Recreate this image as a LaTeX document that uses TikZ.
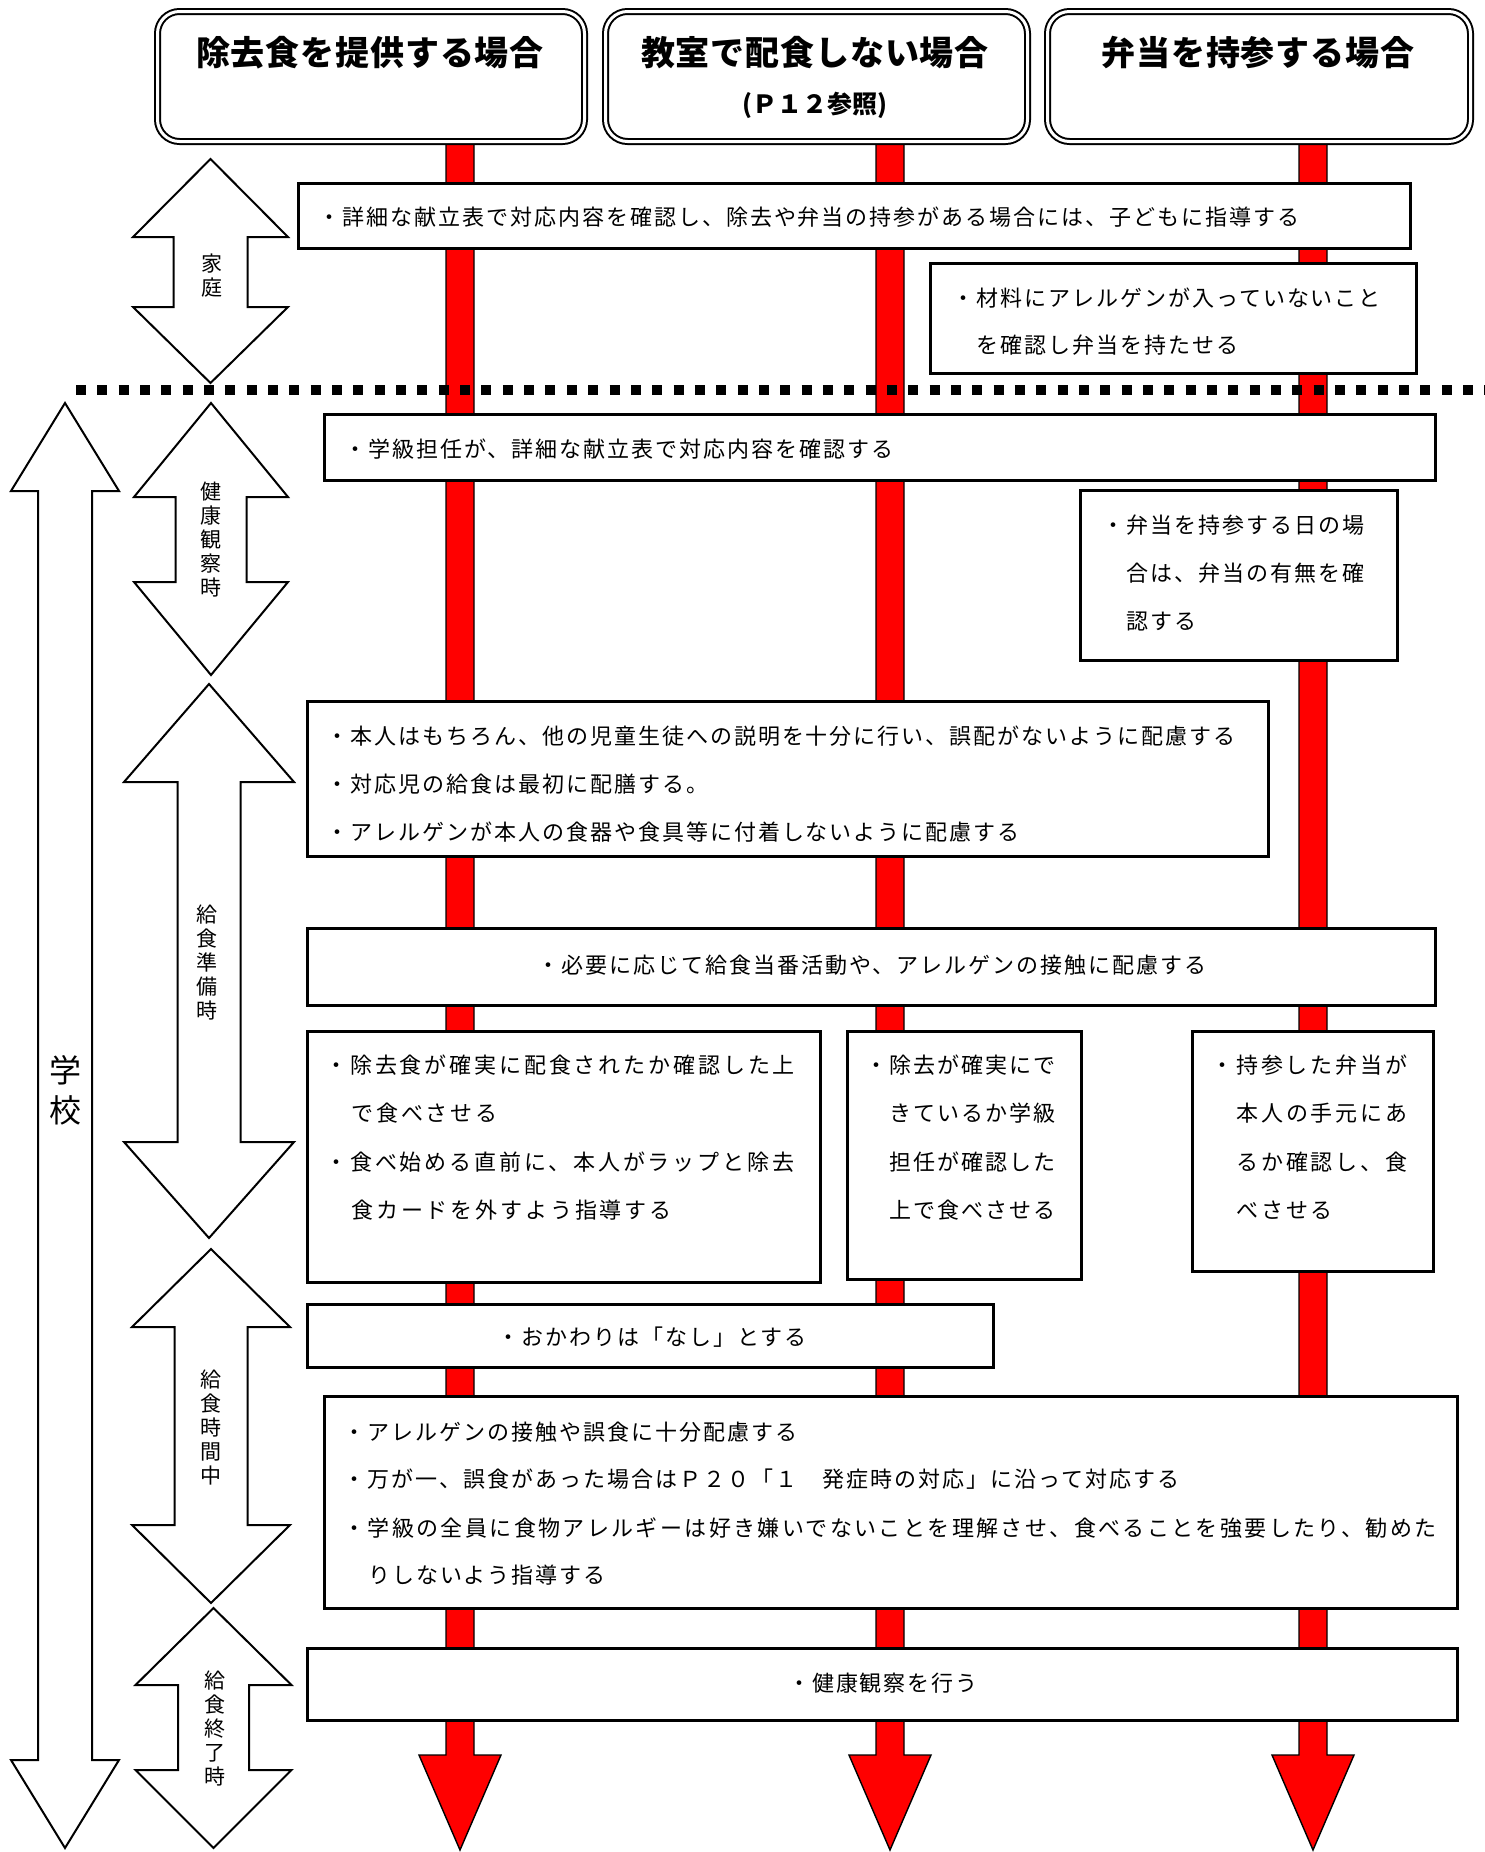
\documentclass[tikz,border=0pt]{standalone}
\usepackage{fontspec}
\newfontfamily\jpbody{Noto Sans CJK JP}[LetterSpace=9]
\newfontfamily\jpbodyk{Noto Sans CJK JP}[LetterSpace=10.8]
\newfontfamily\jpwide{Noto Sans CJK JP}[LetterSpace=13]
\newfontfamily\jphead{Noto Sans CJK JP}[LetterSpace=2.5]
\newfontfamily\jpplain{Noto Sans CJK JP}
\newcommand\mydblarrow[8]{% name, cx, tipTop, baseTop, baseBot, tipBot, headHW, shaftHW
  \draw[blockarrow] (#2,#3) coordinate (#1) -- ({#2+#7},#4) -- ({#2+#8},#4) -- ({#2+#8},#5) -- ({#2+#7},#5) -- (#2,#6) -- ({#2-#7},#5) -- ({#2-#8},#5) -- ({#2-#8},#4) -- ({#2-#7},#4) -- cycle;}
\newcommand\myredbar[2]{% name, cx
  \draw[redbar] ({#2-14},141) coordinate (#1) -- ({#2+14},141) -- ({#2+14},1755) -- ({#2+41},1755) -- (#2,1850) -- ({#2-41},1755) -- ({#2-14},1755) -- cycle;}
\newcommand\myboxat[5]{% name, x1, y1, x2, y2
  \node[box, anchor=north west, minimum width={(#4-#2)*0.5pt}, minimum height={(#5-#3)*0.5pt}] (#1) at (#2,#3) {};}
\newcommand\myhead[3]{% name, x1, x2
  \node[hdr, anchor=north west, minimum width={(#3-#2-7)*0.5pt}, minimum height={(144-7-7)*0.5pt}] (#1) at ({#2+3.5},10.5) {};}
\begin{document}
\begin{tikzpicture}[x=0.5pt,y=-0.5pt,
  box/.style={draw=black,line width=1.3pt,fill=white,inner sep=0pt},
  hdr/.style={draw=black,line width=1pt,double=white,double distance=1.5pt,rounded corners=11pt,fill=white,inner sep=0pt},
  blockarrow/.style={draw=black,line width=1pt,fill=white,line join=miter},
  redbar/.style={draw=black,line width=0.7pt,fill=red,line join=miter},
  txt/.style={inner sep=0pt,anchor=west,font=\jpbody\fontsize{11pt}{12pt}\selectfont},
  ktxt/.style={inner sep=0pt,anchor=west,font=\jpbodyk\fontsize{11pt}{12pt}\selectfont},
  wtxt/.style={inner sep=0pt,anchor=west,font=\jpwide\fontsize{11pt}{12pt}\selectfont},
  ctxt/.style={inner sep=0pt,anchor=center,font=\jpbody\fontsize{11pt}{12pt}\selectfont},
  htxt/.style={inner sep=0pt,anchor=center,font=\jphead\fontsize{17pt}{18pt}\selectfont\bfseries},
  vlab/.style={inner sep=0pt,align=center,font=\jpplain\fontsize{10.5pt}{12pt}\selectfont},
]
\useasboundingbox (0,0) rectangle (1484,1852);
\fill[white] (0,0) rectangle (1484,1852);

% red bars
\myredbar{rb1}{460}
\myredbar{rb2}{890}
\myredbar{rb3}{1313}

% headers
\myhead{h1}{153}{587}
\myhead{h2}{601}{1030}
\myhead{h3}{1043}{1473}
\node[htxt] (h1t) at (370,53) {除去食を提供する場合};
\node[htxt] (h2t) at (815,53) {教室で配食しない場合};
\node[inner sep=0pt,font=\jpplain\fontsize{12.5pt}{14pt}\selectfont\bfseries] (h2s) at (815,105) {(Ｐ１２参照)};
\node[htxt] (h3t) at (1258,53) {弁当を持参する場合};

% boxes
\myboxat{bA}{297}{182}{1409}{247}
\myboxat{bB}{929}{262}{1415}{372}
\myboxat{bC}{323}{413}{1434}{479}
\myboxat{bD}{1079}{489}{1396}{659}
\myboxat{bE}{306}{700}{1267}{855}
\myboxat{bF}{306}{927}{1434}{1004}
\myboxat{bG}{306}{1030}{819}{1281}
\myboxat{bH}{846}{1030}{1080}{1278}
\myboxat{bI}{1191}{1030}{1432}{1270}
\myboxat{bJ}{306}{1303}{992}{1366}
\myboxat{bK}{323}{1395}{1456}{1607}
\myboxat{bL}{306}{1647}{1456}{1719}

% texts
\node[txt] (tA) at (318,217) {・詳細な献立表で対応内容を確認し、除去や弁当の持参がある場合には、子どもに指導する};
\node[txt] (tB1) at (952,298) {・材料にアレルゲンが入っていないこと};
\node[txt] (tB2) at (976,345) {を確認し弁当を持たせる};
\node[txt] (tC) at (344,449) {・学級担任が、詳細な献立表で対応内容を確認する};
\node[txt] (tD1) at (1102,525) {・弁当を持参する日の場};
\node[txt] (tD2) at (1126,573) {合は、弁当の有無を確};
\node[txt] (tD3) at (1126,621) {認する};
\node[txt] (tE1) at (326,736) {・本人はもちろん、他の児童生徒への説明を十分に行い、誤配がないように配慮する};
\node[txt] (tE2) at (326,784) {・対応児の給食は最初に配膳する。};
\node[txt] (tE3) at (326,832) {・アレルゲンが本人の食器や食具等に付着しないように配慮する};
\node[ctxt] (tF) at (872,965) {・必要に応じて給食当番活動や、アレルゲンの接触に配慮する};
\node[wtxt] (tG1) at (325,1065) {・除去食が確実に配食されたか確認した上};
\node[wtxt] (tG2) at (351,1113) {で食べさせる};
\node[wtxt] (tG3) at (325,1162) {・食べ始める直前に、本人がラップと除去};
\node[wtxt] (tG4) at (351,1210) {食カードを外すよう指導する};
\node[txt] (tH1) at (865,1065) {・除去が確実にで};
\node[txt] (tH2) at (889,1113) {きているか学級};
\node[txt] (tH3) at (889,1162) {担任が確認した};
\node[txt] (tH4) at (889,1210) {上で食べさせる};
\node[wtxt] (tI1) at (1211,1065) {・持参した弁当が};
\node[wtxt] (tI2) at (1236,1113) {本人の手元にあ};
\node[wtxt] (tI3) at (1236,1162) {るか確認し、食};
\node[wtxt] (tI4) at (1236,1210) {べさせる};
\node[ctxt] (tJ) at (652,1337) {・おかわりは「なし」とする};
\node[txt] (tK1) at (343,1432) {・アレルゲンの接触や誤食に十分配慮する};
\node[txt] (tK2) at (343,1479) {・万が一、誤食があった場合はＰ２０「１　発症時の対応」に沿って対応する};
\node[ktxt] (tK3) at (343,1528) {・学級の全員に食物アレルギーは好き嫌いでないことを理解させ、食べることを強要したり、勧めた};
\node[txt] (tK4) at (368,1575) {りしないよう指導する};
\node[ctxt] (tL) at (883,1683) {・健康観察を行う};

% dotted separator
\coordinate (dl) at (76,390);
\coordinate (dr) at (1490,390);
\draw[line width=5pt,dash pattern=on 5pt off 5.67pt] (dl) -- (dr);

% side arrows
\mydblarrow{aS}{65}{403}{491}{1760}{1848}{54}{27}
\mydblarrow{aK}{210.5}{159}{237}{307}{383}{77.5}{37}
\mydblarrow{aH}{211}{403}{497}{582}{675}{77}{35.5}
\mydblarrow{aP}{209}{684}{782}{1142}{1238}{85}{31.5}
\mydblarrow{aM}{211}{1249}{1327}{1525}{1603}{79}{36.5}
\mydblarrow{aE}{213.5}{1608}{1685}{1770}{1848}{78}{35.5}

\node[inner sep=0pt,align=center,font=\jpplain\fontsize{16pt}{20pt}\selectfont] (lS) at (65,1090) {学\\校};
\node[vlab] (lK) at (212,276) {家\\庭};
\node[vlab] (lH) at (211,540) {健\\康\\観\\察\\時};
\node[vlab] (lP) at (207,962) {給\\食\\準\\備\\時};
\node[vlab] (lM) at (211,1427) {給\\食\\時\\間\\中};
\node[vlab] (lE) at (215,1728) {給\\食\\終\\了\\時};
\end{tikzpicture}
\end{document}
